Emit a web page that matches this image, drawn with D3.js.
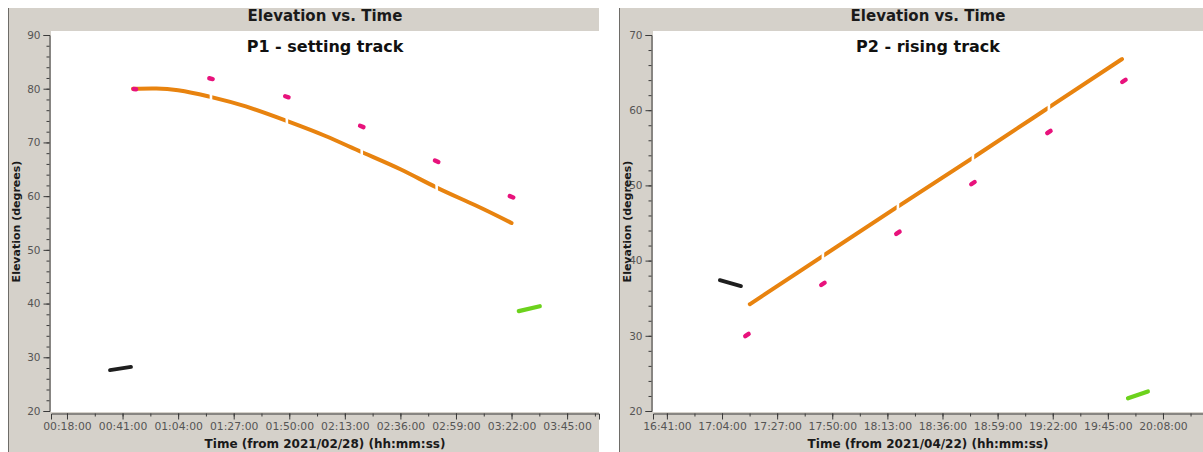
<!DOCTYPE html>
<html>
<head>
<meta charset="utf-8">
<script src="https://cdn.jsdelivr.net/npm/d3@7"></script>
<style>
  html, body { margin: 0; padding: 0; background: #ffffff; }
  svg { display: block; font-family: "DejaVu Sans", sans-serif; }
</style>
</head>
<body>
<svg id="chart" width="1203" height="452"></svg>
<script>
// ---- Pass P1 (2021/02/28): times in minutes after midnight, elevations in degrees
const p1XTickLabels = ["00:18:00", "00:41:00", "01:04:00", "01:27:00", "01:50:00",
                       "02:13:00", "02:36:00", "02:59:00", "03:22:00", "03:45:00"];
const p1YTicks = [20, 30, 40, 50, 60, 70, 80, 90];
const p1OrangeTime = [45.3, 55, 64, 76.3, 92, 109, 125, 140, 156, 171, 187, 202];
const p1OrangeElev = [80.0, 80.05, 79.7, 78.6, 76.7, 74.0, 71.2, 68.2, 65.0, 61.6, 58.3, 55.0];
const p1PinkStart = [45.6, 76.9, 108.3, 139.3, 170.3, 201.3];
const p1PinkEnd = [46.6, 78.3, 109.7, 140.7, 171.7, 202.7];
const p1PinkElevStart = [79.95, 81.95, 78.6, 73.1, 66.65, 60.0];
const p1PinkElevEnd = [79.9, 81.8, 78.4, 72.85, 66.35, 59.75];
const p1BlackTime = [35.8, 44.5];
const p1BlackElev = [27.6, 28.2];
const p1GreenTime = [205.0, 213.7];
const p1GreenElev = [38.6, 39.5];

// ---- Pass P2 (2021/04/22)
const p2XTickLabels = ["16:41:00", "17:04:00", "17:27:00", "17:50:00", "18:13:00",
                       "18:36:00", "18:59:00", "19:22:00", "19:45:00", "20:08:00"];
const p2YTicks = [20, 30, 40, 50, 60, 70];
const p2OrangeTime = [1035.6, 1066, 1097, 1128.3, 1159.6, 1190.9];
const p2OrangeElev = [34.2, 40.6, 47.1, 53.6, 60.2, 66.8];
const p2PinkStart = [1033.7, 1065.4, 1096.7, 1128.0, 1159.7, 1191.0];
const p2PinkEnd = [1035.1, 1066.8, 1098.1, 1129.4, 1161.1, 1192.4];
const p2PinkElevStart = [29.95, 36.75, 43.55, 50.15, 56.95, 63.75];
const p2PinkElevEnd = [30.25, 37.05, 43.85, 50.45, 57.25, 64.05];
const p2BlackTime = [1023.1, 1031.9];
const p2BlackElev = [37.4, 36.6];
const p2GreenTime = [1193.4, 1201.7];
const p2GreenElev = [21.7, 22.6];

const COLORS = { orange: "#e8830f", pink: "#e8127c", black: "#1e1e1e", green: "#6cd21c" };
const PANEL_BG = "#d5d1ca";

const svg = d3.select("#chart");

function toMinutes(label) {
  const [h, m, s] = label.split(":").map(Number);
  return h * 60 + m + s / 60;
}

function drawPanel(cfg) {
  const g = svg.append("g");

  // panel background and left border
  g.append("rect").attr("x", cfg.panelX).attr("y", 8)
    .attr("width", cfg.panelW).attr("height", 452 - 8).attr("fill", PANEL_BG);
  g.append("line").attr("x1", cfg.panelX + 0.5).attr("x2", cfg.panelX + 0.5)
    .attr("y1", 8).attr("y2", 452).attr("stroke", "#6e6c68").attr("stroke-width", 1);

  const plot = cfg.plot;
  g.append("rect").attr("x", plot.x0).attr("y", plot.y0)
    .attr("width", plot.x1 - plot.x0).attr("height", plot.y1 - plot.y0).attr("fill", "#ffffff");

  const x = d3.scaleLinear().domain(cfg.xDomain).range([plot.x0, plot.x1]);
  const y = d3.scaleLinear().domain(cfg.yDomain).range(cfg.yRange);

  // y axis with minor ticks every 2 degrees
  const yMinor = d3.range(cfg.yDomain[0], cfg.yDomain[1] + 0.001, 2);
  const yAxisX = plot.x0 - 1.5;
  g.append("g").attr("transform", `translate(${yAxisX},0)`)
    .call(d3.axisLeft(y).tickValues(yMinor).tickSize(3).tickFormat(""))
    .call(a => a.select(".domain").remove())
    .selectAll("line").attr("stroke", "#3a3a3a");
  const yAx = g.append("g").attr("transform", `translate(${yAxisX},0)`)
    .call(d3.axisLeft(y).tickValues(cfg.yTicks).tickSize(6).tickPadding(3).tickFormat(d3.format("d")));
  yAx.select(".domain").attr("stroke", "#3a3a3a");
  yAx.selectAll("line").attr("stroke", "#3a3a3a");
  yAx.selectAll("text").attr("fill", "#555").attr("font-size", 10.5)
    .attr("font-family", "DejaVu Sans");

  // x axis with one minor tick between labelled ticks
  const xTickVals = cfg.xTickLabels.map(toMinutes);
  const step = xTickVals[1] - xTickVals[0];
  const xMinor = [];
  for (let t = xTickVals[0] - step / 2; t <= cfg.xDomain[1]; t += step / 2) {
    if (t >= cfg.xDomain[0]) xMinor.push(t);
  }
  const xAxisY = plot.y1 + 1.5;
  g.append("g").attr("transform", `translate(0,${xAxisY})`)
    .call(d3.axisBottom(x).tickValues(xMinor).tickSize(3).tickFormat(""))
    .call(a => a.select(".domain").remove())
    .selectAll("line").attr("stroke", "#3a3a3a");
  const xAx = g.append("g").attr("transform", `translate(0,${xAxisY})`)
    .call(d3.axisBottom(x).tickValues(xTickVals).tickSize(6).tickPadding(3)
      .tickFormat((d, i) => cfg.xTickLabels[i]));
  xAx.select(".domain").attr("stroke", "#3a3a3a");
  xAx.selectAll("line").attr("stroke", "#3a3a3a");
  xAx.selectAll("text").attr("fill", "#555").attr("font-size", 10.8)
    .attr("font-family", "DejaVu Sans");

  // titles and axis labels
  const cx = (plot.x0 + plot.x1) / 2;
  g.append("text").attr("x", cx).attr("y", 21).attr("text-anchor", "middle")
    .attr("font-size", 15).attr("font-weight", "bold").attr("fill", "#1a1a1a")
    .text("Elevation vs. Time");
  g.append("text").attr("x", cx).attr("y", 52).attr("text-anchor", "middle")
    .attr("font-size", 16).attr("font-weight", "bold").attr("fill", "#111")
    .text(cfg.subtitle);
  g.append("text").attr("x", cx).attr("y", 448).attr("text-anchor", "middle")
    .attr("font-size", 12).attr("font-weight", "bold").attr("fill", "#1a1a1a")
    .text(cfg.xLabel);
  g.append("text")
    .attr("transform", `translate(${cfg.panelX + 12},${(plot.y0 + plot.y1) / 2}) rotate(-90)`)
    .attr("text-anchor", "middle").attr("font-size", 11).attr("font-weight", "bold")
    .attr("fill", "#1a1a1a").text("Elevation (degrees)");

  // data marks, clipped to the plot area
  const clipId = "clip-" + cfg.id;
  g.append("clipPath").attr("id", clipId).append("rect")
    .attr("x", plot.x0).attr("y", plot.y0)
    .attr("width", plot.x1 - plot.x0).attr("height", plot.y1 - plot.y0);
  const marks = g.append("g").attr("clip-path", `url(#${clipId})`);

  const line = d3.line().x(d => x(d[0])).y(d => y(d[1])).curve(d3.curveNatural);

  // orange track, broken into pieces at each pink sample time
  const orangePts = cfg.orangeTime.map((t, i) => [t, cfg.orangeElev[i]]);
  const breaks = cfg.pinkStart.map((t, i) => (t + cfg.pinkEnd[i]) / 2)
    .filter(t => t > cfg.orangeTime[0] + 2 && t < cfg.orangeTime[cfg.orangeTime.length - 1] - 2);
  const edges = [x(cfg.orangeTime[0]) - 10, ...breaks.map(x), x(cfg.orangeTime[cfg.orangeTime.length - 1]) + 10];
  for (let i = 0; i < edges.length - 1; i++) {
    const segClip = `${clipId}-seg${i}`;
    const left = i === 0 ? edges[i] : edges[i] + 1.3;
    const right = i === edges.length - 2 ? edges[i + 1] : edges[i + 1] - 1.3;
    g.append("clipPath").attr("id", segClip).append("rect")
      .attr("x", left).attr("y", plot.y0).attr("width", right - left).attr("height", plot.y1 - plot.y0);
    marks.append("path").datum(orangePts)
      .attr("clip-path", `url(#${segClip})`)
      .attr("d", line).attr("fill", "none").attr("stroke", COLORS.orange)
      .attr("stroke-width", 4).attr("stroke-linecap", "round").attr("stroke-linejoin", "round");
  }

  const straight = d3.line().x(d => x(d[0])).y(d => y(d[1]));
  const seg = (ts, es, color, w) => marks.append("path")
    .datum(ts.map((t, i) => [t, es[i]])).attr("d", straight)
    .attr("fill", "none").attr("stroke", color).attr("stroke-width", w)
    .attr("stroke-linecap", "round");

  seg(cfg.blackTime, cfg.blackElev, COLORS.black, 3.8);
  seg(cfg.greenTime, cfg.greenElev, COLORS.green, 4.2);
  cfg.pinkStart.forEach((t, i) => {
    seg([t, cfg.pinkEnd[i]], [cfg.pinkElevStart[i], cfg.pinkElevEnd[i]], COLORS.pink, 4.4);
  });
}

drawPanel({
  id: "p1", panelX: 8, panelW: 591, subtitle: "P1 - setting track",
  xLabel: "Time (from 2021/02/28) (hh:mm:ss)",
  plot: { x0: 51, x1: 599, y0: 31, y1: 412 },
  xDomain: [11.38, 238.2], yDomain: [20, 90], yRange: [411, 35],
  xTickLabels: p1XTickLabels, yTicks: p1YTicks,
  orangeTime: p1OrangeTime, orangeElev: p1OrangeElev,
  pinkStart: p1PinkStart, pinkEnd: p1PinkEnd,
  pinkElevStart: p1PinkElevStart, pinkElevEnd: p1PinkElevEnd,
  blackTime: p1BlackTime, blackElev: p1BlackElev,
  greenTime: p1GreenTime, greenElev: p1GreenElev
});

drawPanel({
  id: "p2", panelX: 619, panelW: 584, subtitle: "P2 - rising track",
  xLabel: "Time (from 2021/04/22) (hh:mm:ss)",
  plot: { x0: 653, x1: 1203, y0: 31, y1: 412 },
  xDomain: [995.2, 1224.7], yDomain: [20, 70], yRange: [411, 35],
  xTickLabels: p2XTickLabels, yTicks: p2YTicks,
  orangeTime: p2OrangeTime, orangeElev: p2OrangeElev,
  pinkStart: p2PinkStart, pinkEnd: p2PinkEnd,
  pinkElevStart: p2PinkElevStart, pinkElevEnd: p2PinkElevEnd,
  blackTime: p2BlackTime, blackElev: p2BlackElev,
  greenTime: p2GreenTime, greenElev: p2GreenElev
});
</script>
</body>
</html>
